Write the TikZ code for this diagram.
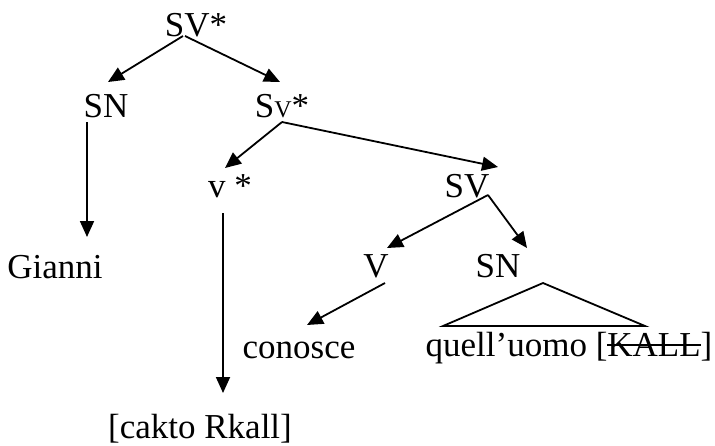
\documentclass[tikz,border=0pt]{standalone}
\usepackage{fontspec}
\setmainfont{Liberation Serif}
\usepackage{tikz}
\usetikzlibrary{arrows.meta,calc}

\newsavebox{\strkbox}
\newcommand{\strikeword}[1]{\sbox{\strkbox}{#1}%
  \rlap{\rule[0.3em]{\wd\strkbox}{0.8pt}}\usebox{\strkbox}}

\begin{document}
\begin{tikzpicture}[
  x=0.5pt,y=-0.5pt,
  font=\fontsize{17.5}{20}\selectfont,
  lbl/.style={inner sep=0pt,anchor=base},
  arr/.style={line width=0.9pt,-{Triangle[length=8pt,width=7pt]}},
  tri/.style={line width=0.9pt}]
\useasboundingbox (0,0) rectangle (715,445);

% --- labels of the tree ---
\node[lbl] (top)   at (196,36)  {SV*};
\node[lbl] (sn1)   at (106,117) {SN};
\node[lbl] (sv1)   at (282,117) {S{\fontsize{12}{12}\selectfont V}*};
\node[lbl] (vst)   at (230,197) {v *};
\node[lbl] (sv2)   at (467,197) {SV};
\node[lbl] (v)     at (376,277) {V};
\node[lbl] (sn2)   at (498,277) {SN};
\node[lbl] (gianni)  at (55,278)  {Gianni};
\node[lbl] (conosce) at (299,358) {conosce};
\node[lbl] (quell)   at (569,356) {quell'uomo [\strikeword{KALL}]};
\node[lbl] (cakto)   at (200,438) {[cakto Rkall]};

% --- branches ---
\draw[arr] ($(top.base)+(-13,0)$) -- ($(sn1.base)+(2,-35)$);
\draw[arr] ($(top.base)+(-11,0)$) -- ($(sv1.base)+(-2,-35)$);
\draw[arr] ($(sn1.base)+(-19,5)$) -- ($(gianni.base)+(32,-41)$);
\draw[arr] ($(sv1.base)+(0,5)$) -- ($(vst.base)+(-5,-29)$);
\draw[arr] ($(sv1.base)+(0,5)$) -- ($(sv2.base)+(31,-30)$);
\draw[arr] ($(vst.base)+(-7,16)$) -- ($(cakto.base)+(23,-45)$);
\draw[arr] ($(sv2.base)+(21,-2)$) -- ($(v.base)+(11,-29)$);
\draw[arr] ($(sv2.base)+(21,-2)$) -- ($(sn2.base)+(29,-29)$);
\draw[arr] ($(v.base)+(9,6)$) -- ($(conosce.base)+(8,-33)$);

% --- roof over the object ---
\draw[tri] ($(sn2.base)+(45,6)$) -- ($(quell.base)+(76,-30)$)
  -- ($(quell.base)+(-126,-30)$) -- cycle;
\end{tikzpicture}
\end{document}
